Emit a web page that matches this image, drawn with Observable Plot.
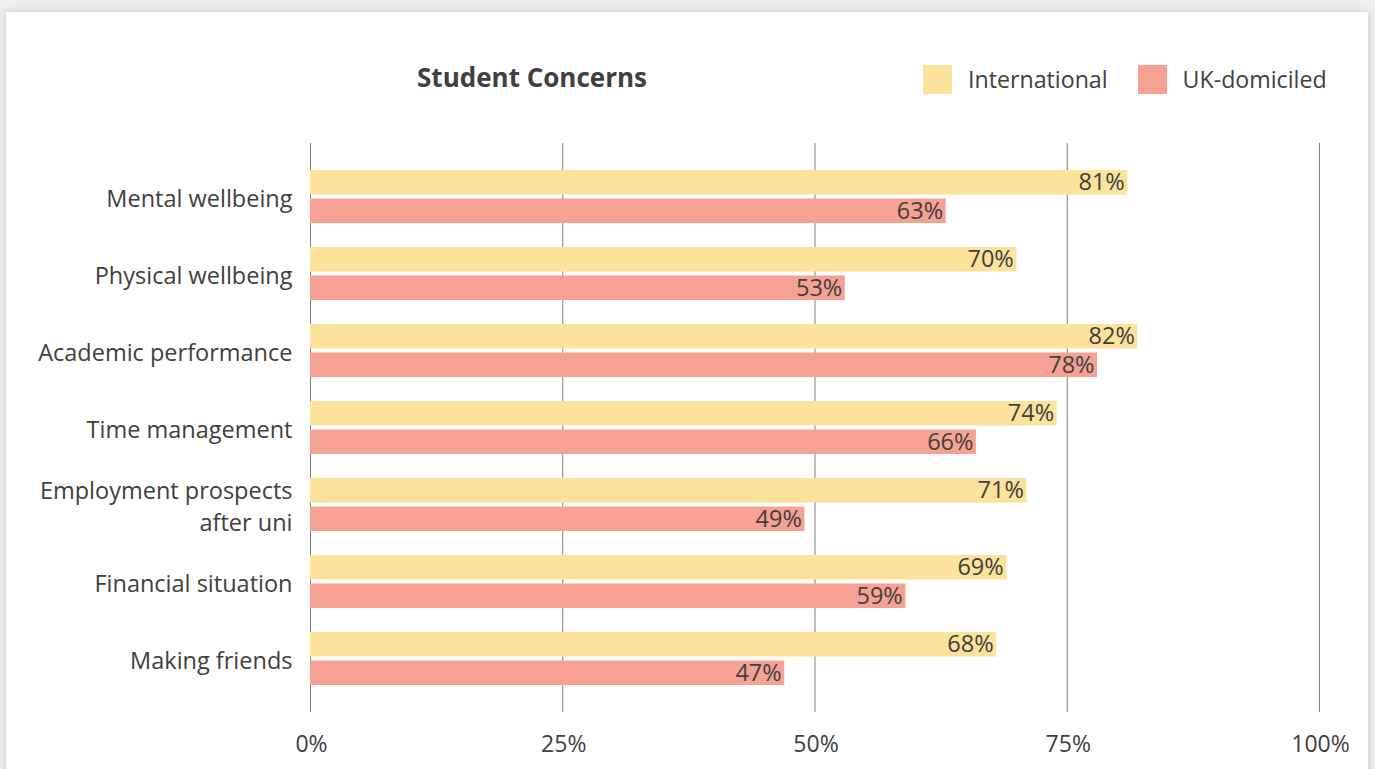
<!DOCTYPE html>
<html>
<head>
<meta charset="utf-8">
<script src="https://cdn.jsdelivr.net/npm/d3@7"></script>
<script src="https://cdn.jsdelivr.net/npm/@observablehq/plot@0.6"></script>
<style>
  html, body { margin: 0; padding: 0; background: #eeeeee; width: 1375px; height: 769px; overflow: hidden; }
  #card { position: absolute; left: 6px; top: 12px; width: 1362px; height: 780px; background: #fff; box-shadow: 0 0 8px rgba(0,0,0,0.15); }
  #chart { position: absolute; left: 0; top: 0; }
  .title { position: absolute; left: 532px; top: 59px; transform: translateX(-50%); font: bold 26px "Open Sans", sans-serif; color: #404040; white-space: nowrap; }
  .legend { position: absolute; top: 63px; left: 923px; display: flex; align-items: center; font: 23.2px "Open Sans", sans-serif; color: #404040; white-space: nowrap; }
  .sw { width: 29px; height: 29px; display: inline-block; margin-right: 16px; }
  .item { display: flex; align-items: center; margin-right: 30px; }
</style>
</head>
<body>
<div id="card"></div>
<div id="chart"></div>
<div class="title">Student Concerns</div>
<div class="legend" id="legend"></div>
<script>
const categories = ["Mental wellbeing", "Physical wellbeing", "Academic performance", "Time management", "Employment prospects\nafter uni", "Financial situation", "Making friends"];
const international = [81, 70, 82, 74, 71, 69, 68];
const ukDomiciled = [63, 53, 78, 66, 49, 59, 47];
const xTicks = [0, 25, 50, 75, 100];
const seriesNames = ["International", "UK-domiciled"];
const seriesColors = ["#FDE29C", "#F6A194"];

const intData = categories.map((c, i) => ({category: c, value: international[i]}));
const ukData = categories.map((c, i) => ({category: c, value: ukDomiciled[i]}));

const font = "'Open Sans', sans-serif";
const half = 28.5;

const plot = Plot.plot({
  width: 1375,
  height: 769,
  marginLeft: 310,
  marginRight: 56,
  marginTop: 143,
  marginBottom: 57,
  style: {fontFamily: font, fontSize: "23px", color: "#404040", background: "transparent", overflow: "visible"},
  x: {domain: [0, 100], ticks: xTicks, tickFormat: d => d + "%", label: null},
  y: {domain: categories, paddingInner: 0.316, paddingOuter: 0.33, label: null},
  marks: [
    Plot.gridX(xTicks, {stroke: "#808080", strokeOpacity: 1, strokeWidth: 1}),
    Plot.barX(intData, {x: "value", y: "category", fill: seriesColors[0], insetBottom: half}),
    Plot.barX(ukData, {x: "value", y: "category", fill: seriesColors[1], insetTop: half}),
    Plot.text(intData, {x: "value", y: "category", text: d => d.value + "%", textAnchor: "end", dx: -3, dy: -14.5, fill: "#404040", fontSize: 23.5}),
    Plot.text(ukData, {x: "value", y: "category", text: d => d.value + "%", textAnchor: "end", dx: -3, dy: 14.5, fill: "#404040", fontSize: 23.5}),
    Plot.axisX({ticks: xTicks, tickFormat: d => d + "%", tickSize: 0, tickPadding: 23, dx: 1, fontSize: 23, fill: "#404040", label: null}),
    Plot.axisY({tickSize: 0, tickPadding: 18, fontSize: 23.5, fill: "#404040", lineHeight: 1.36, label: null})
  ]
});
document.getElementById("chart").appendChild(plot);

const legend = document.getElementById("legend");
seriesNames.forEach((n, i) => {
  const it = document.createElement("div");
  it.className = "item";
  const sw = document.createElement("span");
  sw.className = "sw";
  sw.style.background = seriesColors[i];
  it.appendChild(sw);
  it.appendChild(document.createTextNode(n));
  legend.appendChild(it);
});
</script>
</body>
</html>
